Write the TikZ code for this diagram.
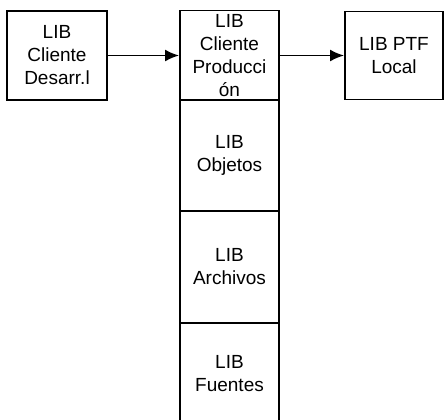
\documentclass[tikz,border=0pt]{standalone}
\usepackage{fontspec}
\setmainfont{Liberation Sans}
\usetikzlibrary{arrows.meta}

\begin{document}
\begin{tikzpicture}[x=0.75pt,y=-0.75pt,
    caja/.style={draw,line width=1.4pt,align=center,inner sep=0pt,font=\fontsize{14.25}{17.25}\selectfont},
    flecha/.style={-{Latex[length=10.5pt,width=9pt]},line width=1.4pt}]
              \useasboundingbox (0,0) rectangle (444,419);
              \node[caja,minimum width=75pt,minimum height=66.75pt](desarr)at(57,55.5){LIB\\Cliente\\Desarr.l};
              \node[caja,minimum width=74.25pt,minimum height=67.5pt](prod)at(229.5,55.5){LIB\\Cliente\\Producci\\ón};
              \node[caja,minimum width=74.25pt,minimum height=83.25pt](objetos)at(229.5,155.5){LIB\\Objetos};
              \node[caja,minimum width=74.25pt,minimum height=84pt](archivos)at(229.5,267){LIB\\Archivos};
              \node[caja,minimum width=74.25pt,minimum height=75.75pt](fuentes)at(229.5,373.5){LIB\\Fuentes};
              \node[caja,minimum width=73.5pt,minimum height=66pt](ptf)at(394,55.5){LIB PTF\\Local};
              \draw[flecha](desarr)--(prod);
              \draw[flecha](prod)--(ptf);
            \end{tikzpicture}
\end{document}
